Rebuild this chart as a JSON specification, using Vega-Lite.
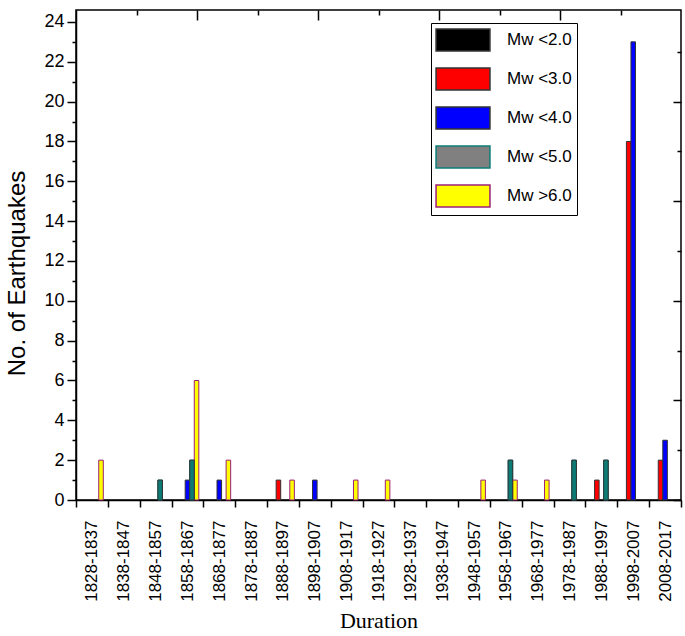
{
  "$schema": "https://vega.github.io/schema/vega-lite/v6.json",
  "width": 605,
  "height": 490,
  "autosize": {"type": "none"},
  "padding": {"left": 76, "top": 10, "right": 4, "bottom": 136},
  "background": "white",
  "config": {
    "view": {"stroke": "black", "strokeWidth": 1.5},
    "font": "Liberation Sans",
    "axis": {"grid": false, "domainColor": "black", "tickColor": "black", "labelColor": "black", "titleColor": "black", "domainWidth": 1.5, "tickWidth": 1.5}
  },
  "data": {
    "values": [
      {"period": "1828-1837", "mag": "Mw >6.0", "count": 2},
      {"period": "1848-1857", "mag": "Mw <5.0", "count": 1},
      {"period": "1858-1867", "mag": "Mw <4.0", "count": 1},
      {"period": "1858-1867", "mag": "Mw <5.0", "count": 2},
      {"period": "1858-1867", "mag": "Mw >6.0", "count": 6},
      {"period": "1868-1877", "mag": "Mw <4.0", "count": 1},
      {"period": "1868-1877", "mag": "Mw >6.0", "count": 2},
      {"period": "1888-1897", "mag": "Mw <3.0", "count": 1},
      {"period": "1888-1897", "mag": "Mw >6.0", "count": 1},
      {"period": "1898-1907", "mag": "Mw <4.0", "count": 1},
      {"period": "1908-1917", "mag": "Mw >6.0", "count": 1},
      {"period": "1918-1927", "mag": "Mw >6.0", "count": 1},
      {"period": "1948-1957", "mag": "Mw >6.0", "count": 1},
      {"period": "1958-1967", "mag": "Mw <5.0", "count": 2},
      {"period": "1958-1967", "mag": "Mw >6.0", "count": 1},
      {"period": "1968-1977", "mag": "Mw >6.0", "count": 1},
      {"period": "1978-1987", "mag": "Mw <5.0", "count": 2},
      {"period": "1988-1997", "mag": "Mw <3.0", "count": 1},
      {"period": "1988-1997", "mag": "Mw <5.0", "count": 2},
      {"period": "1998-2007", "mag": "Mw <3.0", "count": 18},
      {"period": "1998-2007", "mag": "Mw <4.0", "count": 23},
      {"period": "2008-2017", "mag": "Mw <3.0", "count": 2},
      {"period": "2008-2017", "mag": "Mw <4.0", "count": 3}
    ]
  },
  "layer": [
    {
      "mark": {"type": "bar", "strokeWidth": 1},
      "encoding": {
        "x": {
          "field": "period", "type": "nominal", "sort": null,
          "scale": {"domain": ["1828-1837","1838-1847","1848-1857","1858-1867","1868-1877","1878-1887","1888-1897","1898-1907","1908-1917","1918-1927","1928-1937","1938-1947","1948-1957","1958-1967","1968-1977","1978-1987","1988-1997","1998-2007","2008-2017"], "paddingInner": 0, "paddingOuter": 0},
          "axis": {"title": "Duration", "titleFont": "Liberation Serif", "titleFontSize": 22, "titleFontWeight": "normal", "titlePadding": 9, "labelAngle": -90, "labelFontSize": 17, "labelPadding": 13, "tickSize": 7, "tickBand": "extent", "labelOverlap": false}
        },
        "xOffset": {"field": "mag", "scale": {"domain": ["Mw <2.0","Mw <3.0","Mw <4.0","Mw <5.0","Mw >6.0"], "paddingInner": 0, "paddingOuter": 1.2}},
        "y": {
          "field": "count", "type": "quantitative",
          "scale": {"domain": [0, 24.6], "nice": false},
          "axis": {"title": "No. of Earthquakes", "titleFontSize": 24, "titleFontWeight": "normal", "titlePadding": 14, "titleY": 263, "values": [0,1,2,3,4,5,6,7,8,9,10,11,12,13,14,15,16,17,18,19,20,21,22,23,24], "labelExpr": "datum.value % 2 === 0 ? datum.label : ''", "labelOverlap": false, "labelFontSize": 18, "labelPadding": 3, "tickSize": {"condition": {"test": "datum.value % 2 === 0", "value": 9}, "value": 4}}
        },
        "color": {
          "field": "mag", "type": "nominal",
          "scale": {"domain": ["Mw <2.0","Mw <3.0","Mw <4.0","Mw <5.0","Mw >6.0"], "range": ["#000000","#ff0000","#0000ff","#808080","#ffff00"]},
          "legend": {
            "orient": "none", "legendX": 355, "legendY": 13, "title": null,
            "symbolType": "M-2.45,-1H2.45V1H-2.45Z", "symbolSize": 484, "symbolStrokeWidth": 1.5, "symbolOffset": 15,
            "labelFontSize": 17, "labelColor": "black", "rowPadding": 11, "padding": 5,
            "labelExpr": "datum.label + '\u00a0\u00a0\u00a0\u00a0\u00a0\u00a0\u00a0'",
            "strokeColor": "black", "fillColor": "white", "labelOffset": 32
          }
        },
        "stroke": {
          "field": "mag", "type": "nominal",
          "scale": {"domain": ["Mw <2.0","Mw <3.0","Mw <4.0","Mw <5.0","Mw >6.0"], "range": ["#333333","#333333","#333333","#0b7d76","#9b1f7a"]}
        }
      }
    },
    {
      "transform": [{"filter": "datum.mag === 'Mw <5.0'"}],
      "mark": {"type": "bar", "strokeWidth": 1, "fill": "#0b7d76", "stroke": "#333333"},
      "encoding": {
        "x": {
          "field": "period", "type": "nominal", "sort": null,
          "scale": {"domain": ["1828-1837","1838-1847","1848-1857","1858-1867","1868-1877","1878-1887","1888-1897","1898-1907","1908-1917","1918-1927","1928-1937","1938-1947","1948-1957","1958-1967","1968-1977","1978-1987","1988-1997","1998-2007","2008-2017"], "paddingInner": 0, "paddingOuter": 0},
          "axis": null
        },
        "xOffset": {"field": "mag", "scale": {"domain": ["Mw <2.0","Mw <3.0","Mw <4.0","Mw <5.0","Mw >6.0"], "paddingInner": 0, "paddingOuter": 1.2}},
        "y": {"field": "count", "type": "quantitative", "axis": null}
      }
    },
    {
      "mark": {"type": "rule", "opacity": 0},
      "encoding": {
        "y": {"field": "count", "type": "quantitative", "axis": {"orient": "right", "title": null, "labels": false, "domain": false, "values": [0,2.5,5,7.5,10,12.5,15,17.5,20,22.5], "tickSize": {"condition": {"test": "datum.value % 5 === 0", "value": -8}, "value": -4}}}
      }
    },
    {
      "mark": {"type": "rule", "opacity": 0},
      "encoding": {
        "x": {"datum": 0, "type": "quantitative", "scale": {"domain": [0, 10], "nice": false}, "axis": {"orient": "top", "title": null, "labels": false, "domain": false, "values": [1,2,3,4,5,6,7,8,9], "tickSize": {"condition": {"test": "datum.value % 2 === 0", "value": -10}, "value": -5}}}
      }
    }
  ],
  "resolve": {"scale": {"x": "independent"}, "axis": {"x": "independent", "y": "independent"}}
}
